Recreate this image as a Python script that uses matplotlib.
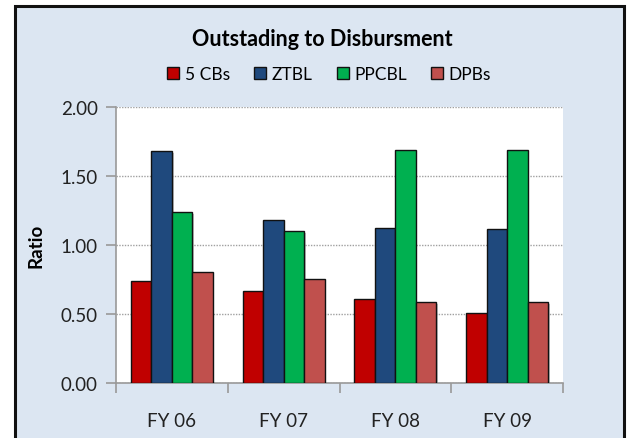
import matplotlib
matplotlib.use("Agg")
import matplotlib.pyplot as plt
import numpy as np
from matplotlib.patches import Rectangle
import matplotlib.patheffects as pe

categories = ["FY 06", "FY 07", "FY 08", "FY 09"]
series_names = ["5 CBs", "ZTBL", "PPCBL", "DPBs"]
cbs5 = [0.74, 0.67, 0.61, 0.51]
ztbl = [1.68, 1.18, 1.125, 1.115]
ppcbl = [1.237, 1.10, 1.69, 1.69]
dpbs = [0.807, 0.754, 0.585, 0.585]
colors = ["#C00000", "#1F497D", "#00B050", "#C0504D"]
yticks = [0.0, 0.5, 1.0, 1.5, 2.0]

plt.rcParams['font.family'] = ['Lato', 'DejaVu Sans']

W, H = 631, 439
fig = plt.figure(figsize=(W/100, H/100), dpi=100)
fig.patch.set_facecolor("white")

# outer chart area
bg = Rectangle((15/W, -0.05), (624-15)/W, (439-7)/H + 0.05, transform=fig.transFigure,
               facecolor="#DCE6F2", edgecolor="#111111", linewidth=2.2, zorder=-10)
fig.patches.append(bg)

left, right, top, bottom = 116, 563, 108, 384
ax = fig.add_axes([left/W, 1-bottom/H, (right-left)/W, (bottom-top)/H])
ax.set_zorder(1)
ax.set_facecolor("white")

data = [cbs5, ztbl, ppcbl, dpbs]
x = np.arange(len(categories))
bw = 0.183
for i, (vals, c, name) in enumerate(zip(data, colors, series_names)):
    offs = (i - 1.5) * bw
    ax.bar(x + offs, vals, bw, color=c, edgecolor="#111111", linewidth=1.0,
           label=name, zorder=3,
           path_effects=[pe.SimplePatchShadow(offset=(1.2, -1.2), shadow_rgbFace="#888888", alpha=0.5),
                         pe.Normal()])

ax.set_xlim(-0.5, 3.5)
ax.set_ylim(0, 2.0)
ax.set_yticks(yticks)
ax.set_yticklabels([f"{v:.2f}" for v in yticks], fontsize=13.5, color="#222222")
ax.yaxis.grid(True, linestyle=(0, (1, 1)), color="#A0A0A0", linewidth=1.0, zorder=1)
ax.set_axisbelow(True)

ax.set_xticks(x)
ax.set_xticklabels(categories, fontsize=13.5, color="#222222")
ax.set_xticks([-0.5, 0.5, 1.5, 2.5, 3.5], minor=True)
ax.tick_params(axis='x', which='major', length=0, pad=21)
ax.tick_params(axis='x', which='minor', length=7, color="#999999", width=1.2)
ax.tick_params(axis='y', which='major', length=7, color="#999999", width=1.2, pad=6)

for s in ["top", "right"]:
    ax.spines[s].set_visible(False)
for s in ["left", "bottom"]:
    ax.spines[s].set_color("#999999")
    ax.spines[s].set_linewidth(1.2)

ax.set_ylabel("Ratio", fontsize=13.5, fontweight="bold", labelpad=12)

fig.text(322/W, 1-40/H, "Outstading to Disbursment", fontsize=15.5, fontweight="bold",
         ha="center", va="center")

leg = ax.legend(loc="center", bbox_to_anchor=(329/W, 1-75/H), bbox_transform=fig.transFigure,
                ncol=4, frameon=False, fontsize=12.5, handlelength=0.7, handleheight=0.7,
                handletextpad=0.3, columnspacing=1.4)
for h in leg.legend_handles:
    h.set_path_effects([])

fig.savefig("out.png", dpi=100)
